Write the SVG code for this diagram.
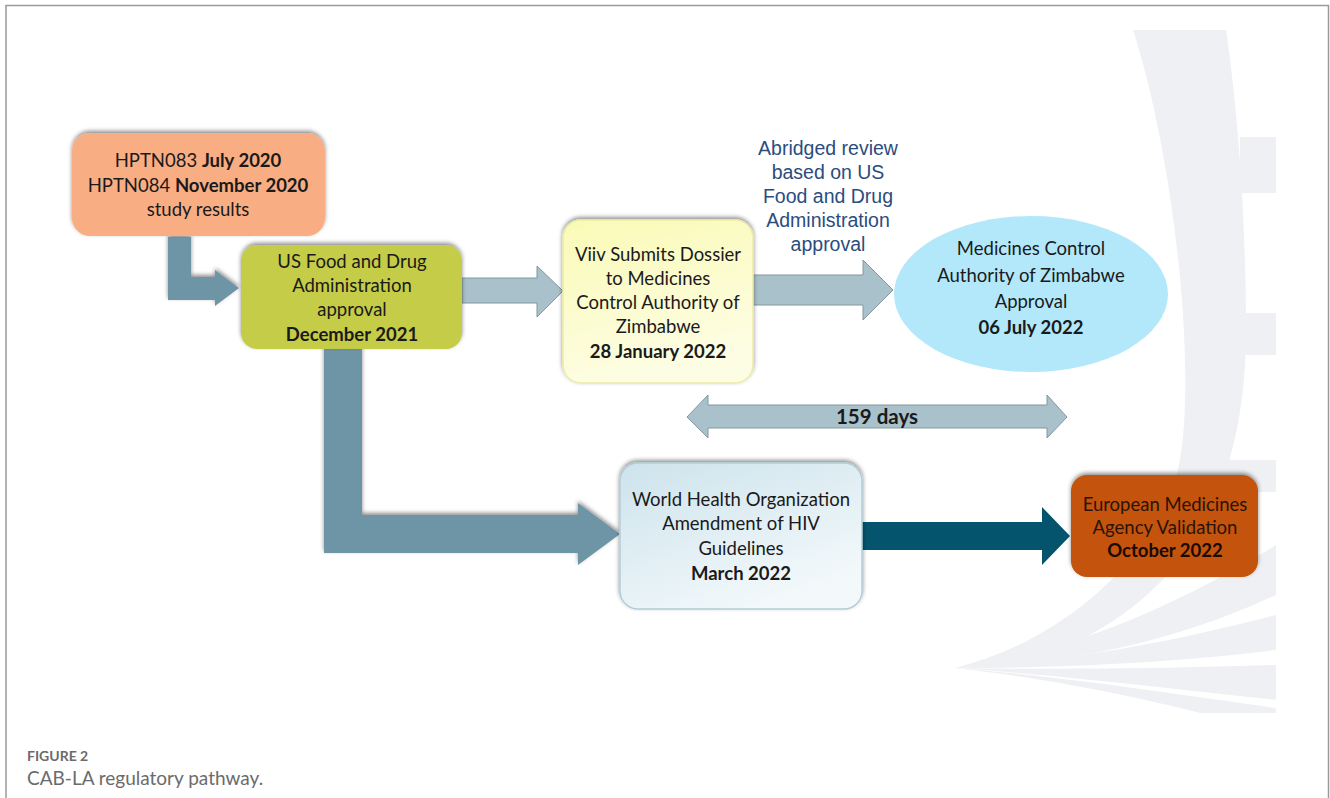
<svg xmlns="http://www.w3.org/2000/svg" width="1330" height="798" viewBox="0 0 1330 798">
<defs>
<filter id="sh" x="-10%" y="-15%" width="120%" height="130%">
<feDropShadow dx="0" dy="-2" stdDeviation="2.2" flood-color="#000" flood-opacity="0.45"/>
</filter>
<linearGradient id="gy" x1="0" y1="0" x2="0.3" y2="1">
<stop offset="0" stop-color="#fafab6"/>
<stop offset="1" stop-color="#fdfde4"/>
</linearGradient>
<linearGradient id="gb" x1="0" y1="0" x2="0.6" y2="1">
<stop offset="0" stop-color="#cde3ec"/>
<stop offset="1" stop-color="#f3f9fb"/>
</linearGradient>
<style>
.t{font-family:Lato,"Liberation Sans",sans-serif;font-size:18.5px;fill:#1a1a1a;text-anchor:middle}
.b{font-weight:bold}
.lbl{font-family:"Liberation Sans",Arial,sans-serif;font-size:19.5px;fill:#2c4c7e;text-anchor:middle}
.wm{fill:#eff0f3}
.dk{fill:#6e95a6}
.lt{fill:#a9c1ca;stroke:#84979e;stroke-width:1}
.cap{font-family:Lato,"Open Sans",sans-serif;fill:#6b6b6b}
</style>
</defs>
<rect x="0" y="0" width="1330" height="798" fill="#fff"/>
<g id="frame" fill="none" stroke="#9a9a9a" stroke-width="1.5">
<path d="M6,798 V5.5 H1328.5 V798"/>
</g>
<g id="watermark">
<path class="wm" d="M1133,30 L1226,30 C1238,110 1246,220 1246,330 C1246,470 1200,580 1080,640 C1040,658 990,666 955,668 C1050,645 1150,570 1178,470 C1198,380 1175,160 1133,30 Z"/>
<rect class="wm" x="1240" y="137" width="36" height="56"/>
<rect class="wm" x="1240" y="313" width="36" height="42"/>
<rect class="wm" x="1213" y="460" width="63" height="32"/>
<path class="wm" d="M955,668 C1060,655 1170,610 1276,545 L1276,595 C1180,640 1070,665 955,668 Z"/>
<path class="wm" d="M955,668 C1070,662 1180,640 1276,615 L1276,650 C1180,662 1070,668 955,668 Z"/>
<path class="wm" d="M955,668 C1070,670 1180,668 1276,665 L1276,700 C1180,690 1070,676 955,668 Z"/>
<path class="wm" d="M955,668 C1060,680 1150,700 1200,713 L1276,713 L1276,708 C1180,695 1060,676 955,668 Z"/>
</g>
<g id="connectors">
<polygon class="dk" filter="url(#sh)" points="168,237 191,237 191,277 215,277 215,270 239,288 215,306 215,300 168,300"/>
<polygon class="dk" filter="url(#sh)" points="324,349 362,349 362,515 578,515 578,503 620,534 578,565 578,553 324,553"/>
<polygon class="lt" points="462,278 537,278 537,266 563,291 537,317 537,303 462,303"/>
<polygon class="lt" points="753,275 863,275 863,260 893,290 863,320 863,305 753,305"/>
<polygon class="lt" points="687,417 708,395 708,405 1047,405 1047,395 1067,417 1047,438 1047,428 708,428 708,438"/>
<polygon fill="#04546d" points="862,522 1042,522 1042,507 1070,536 1042,565 1042,550 862,550"/>
<g id="label-abridged">
<text class="lbl" x="828" y="155">Abridged review</text>
<text class="lbl" x="828" y="179">based on US</text>
<text class="lbl" x="828" y="203">Food and Drug</text>
<text class="lbl" x="828" y="227">Administration</text>
<text class="lbl" x="828" y="251">approval</text>
</g>
<text class="t b" x="877" y="424" style="font-size:20.5px">159 days</text>
</g>
<g id="n1">
<rect x="72" y="133" width="253" height="103" rx="18" fill="#f9ad83" filter="url(#sh)"/>
<text class="t" x="198" y="167">HPTN083 <tspan class="b">July 2020</tspan></text>
<text class="t" x="198" y="192">HPTN084 <tspan class="b">November 2020</tspan></text>
<text class="t" x="198" y="216">study results</text>
</g>
<g id="n2">
<rect x="241" y="245" width="221" height="104" rx="16" fill="#c5cc46" filter="url(#sh)"/>
<text class="t" x="352" y="268">US Food and Drug</text>
<text class="t" x="352" y="292">Administration</text>
<text class="t" x="352" y="316">approval</text>
<text class="t b" x="352" y="341">December 2021</text>
</g>
<g id="n3">
<rect x="563" y="220" width="190" height="163" rx="18" fill="url(#gy)" stroke="#ececa8" stroke-width="1.5" filter="url(#sh)"/>
<text class="t" x="658" y="261">Viiv Submits Dossier</text>
<text class="t" x="658" y="285">to Medicines</text>
<text class="t" x="658" y="309">Control Authority of</text>
<text class="t" x="658" y="333">Zimbabwe</text>
<text class="t b" x="658" y="358">28 January 2022</text>
</g>
<g id="n4">
<ellipse cx="1031" cy="294" rx="137" ry="78" fill="#b3e8fb"/>
<text class="t" x="1031" y="255">Medicines Control</text>
<text class="t" x="1031" y="282">Authority of Zimbabwe</text>
<text class="t" x="1031" y="308">Approval</text>
<text class="t b" x="1031" y="334">06 July 2022</text>
</g>
<g id="n5">
<rect x="620" y="463" width="242" height="146" rx="18" fill="url(#gb)" stroke="#b2cdd8" stroke-width="1.5" filter="url(#sh)"/>
<text class="t" x="741" y="506">World Health Organization</text>
<text class="t" x="741" y="530">Amendment of HIV</text>
<text class="t" x="741" y="555">Guidelines</text>
<text class="t b" x="741" y="580">March 2022</text>
</g>
<g id="n6">
<rect x="1071" y="475" width="187" height="102" rx="16" fill="#c4520b" filter="url(#sh)"/>
<text class="t" x="1165" y="511" style="fill:#2a1406">European Medicines</text>
<text class="t" x="1165" y="534" style="fill:#2a1406">Agency Validation</text>
<text class="t b" x="1165" y="557" style="fill:#1a0a00">October 2022</text>
</g>
<g id="caption">
<text class="cap" x="27" y="761" style="font-size:14px;font-weight:bold">FIGURE 2</text>
<text class="cap" x="27" y="785" style="font-size:19px">CAB-LA regulatory pathway.</text>
</g>
</svg>
